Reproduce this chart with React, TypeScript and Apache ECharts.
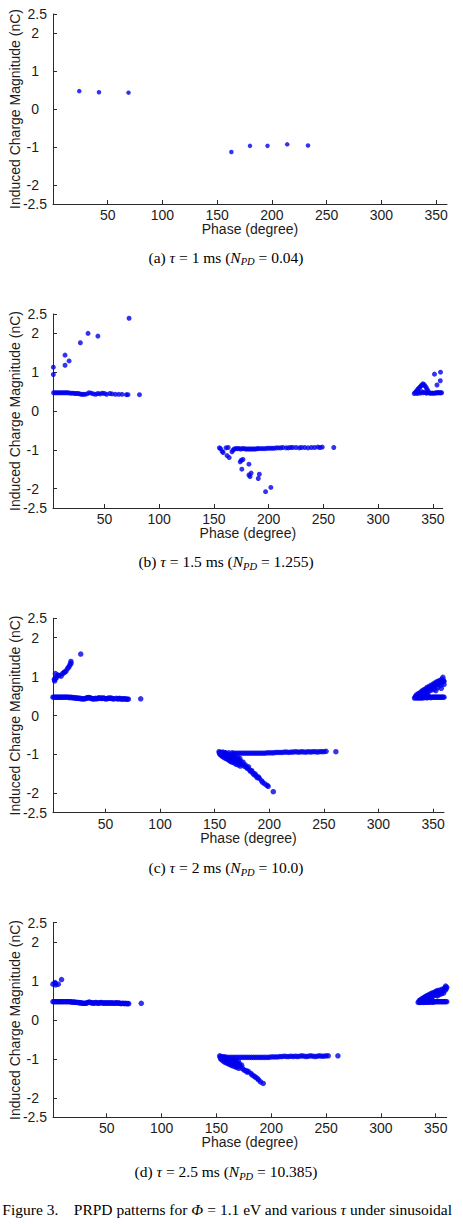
import React, { useEffect, useRef } from "react";
import * as echarts from "echarts";

// ---------- DATA (phase in degrees, induced charge in nC) ----------
const X_TICKS = [50, 100, 150, 200, 250, 300, 350];
const Y_TICKS = [-2.5, -2, -1, 0, 1, 2, 2.5];

// (a) tau = 1 ms
const A_POINTS = [
  [24, 0.47], [42, 0.44], [69, 0.43],
  [163, -1.13], [180, -0.97], [196, -0.97], [214, -0.93], [233, -0.96],
];

// (b) tau = 1.5 ms
const B_UPPER = [
  [3.3, 1.13], [3.3, 0.94], [14, 1.44], [14, 1.18], [17.7, 1.29], [28, 1.76], [35, 2.0], [44, 1.93], [72.5, 2.39],
];
const B_LINE = [
  [3.5, 0.47], [5, 0.47], [6.5, 0.47], [8, 0.47], [9.5, 0.47], [11, 0.47], [12.5, 0.47], [14, 0.47], [15.5, 0.47],
  [17, 0.47], [18.5, 0.46], [20, 0.46], [21.5, 0.46], [23, 0.45], [24.5, 0.45], [26, 0.45], [27.5, 0.44], [29, 0.43],
  [30.5, 0.43], [32, 0.43], [34, 0.44], [36, 0.47], [38, 0.46], [40, 0.44], [42, 0.43], [44, 0.45], [46, 0.44],
  [48, 0.46], [50, 0.45], [52, 0.43], [55, 0.45], [57, 0.44], [60, 0.43], [63, 0.43], [66, 0.43], [70, 0.42],
  [71.5, 0.42], [82, 0.42],
];
const B_NEG = [
  [155, -0.95], [156, -0.97], [157.5, -1.04], [158.4, -1.07], [161, -0.95], [162, -1.15], [163, -0.94], [164, -1.2],
  [166.5, -1.05], [167.5, -1.01], [168.5, -0.98], [170, -0.97], [171.5, -0.97], [173, -0.97], [174.5, -0.98],
  [176, -0.97], [177.5, -0.97], [179, -0.98], [180.5, -0.98], [182, -0.98], [183.5, -0.98], [185, -0.98],
  [186.5, -0.98], [188, -0.98], [189.5, -0.97], [191, -0.97], [193, -0.97], [195, -0.97], [197, -0.97], [199, -0.96],
  [201, -0.96], [203, -0.96], [205, -0.96], [207, -0.95], [209, -0.95], [211, -0.95], [213, -0.94], [216, -0.95],
  [218, -0.95], [220, -0.94], [222, -0.94], [225, -0.94], [228, -0.95], [230, -0.94], [233, -0.94], [236, -0.95],
  [239, -0.94], [242, -0.94], [245, -0.93], [247, -0.94], [249, -0.93], [259.5, -0.94],
  [174, -1.31], [175, -1.27], [176.5, -1.25], [175.5, -1.5], [182, -1.37], [182, -1.65], [183, -1.69], [184, -1.6],
  [190.5, -1.74], [191.5, -1.63], [197.2, -2.08], [202, -1.97],
];
const B_RIGHT = [
  [333, 0.45], [334, 0.48], [335, 0.51], [336, 0.55], [337, 0.58], [338, 0.61], [339, 0.64], [340, 0.67], [341, 0.7],
  [342, 0.68], [343, 0.64], [344, 0.6], [345, 0.55], [346, 0.5], [335.5, 0.45], [337, 0.47], [338.5, 0.46], [340, 0.5],
  [341, 0.47], [342.5, 0.48], [344, 0.46], [345, 0.47], [347, 0.46], [348, 0.46], [349, 0.46], [350, 0.46],
  [351, 0.46], [352, 0.46], [353, 0.47], [354, 0.47], [355, 0.47], [356, 0.47], [357, 0.47], [358, 0.47],
  [351.5, 0.95], [357, 1.0], [353.8, 0.67], [356.8, 0.78],
];

// (c) tau = 2 ms
const C_UPPER = [
  [3.3, 0.93], [3.5, 0.89], [4, 0.95], [4.2, 1.08], [5, 0.97], [6.3, 1.04], [7.5, 1.03], [9.3, 1.01], [10.8, 1.08],
  [12, 1.1], [12.9, 1.12], [14, 1.15], [15.4, 1.21], [16.5, 1.25], [17.5, 1.3], [18.4, 1.39], [18.4, 1.34], [27.4, 1.58],
];
const C_LINE = [
  [2, 0.47], [3, 0.47], [4, 0.47], [5, 0.47], [6, 0.47], [7, 0.47], [8, 0.47], [9, 0.47], [10, 0.47], [11, 0.47],
  [12, 0.47], [13, 0.47], [14, 0.47], [15, 0.47], [16, 0.47], [17, 0.46], [18, 0.47], [19, 0.46], [20, 0.46],
  [21, 0.46], [22, 0.45], [23, 0.45], [24, 0.45], [25, 0.44], [26, 0.44], [27, 0.44], [28, 0.43], [29, 0.43],
  [30, 0.43], [31, 0.43], [32, 0.44], [33, 0.45], [34, 0.46], [35, 0.46], [36, 0.45], [37, 0.44], [38, 0.43],
  [39, 0.43], [40, 0.43], [41, 0.44], [42, 0.43], [43, 0.44], [44, 0.45], [45, 0.45], [46, 0.44], [47, 0.44],
  [48, 0.45], [49, 0.44], [50, 0.43], [51, 0.43], [52, 0.44], [53, 0.44], [54, 0.45], [55, 0.44], [56, 0.44],
  [57, 0.43], [58, 0.43], [60, 0.44], [61, 0.43], [62, 0.43], [63, 0.44], [64, 0.43], [65, 0.42], [66, 0.43],
  [67, 0.43], [68, 0.43], [69, 0.42], [70, 0.42], [71, 0.42], [82.3, 0.43],
];
const C_NEG = [
  [154, -0.93], [154.5, -0.97], [155, -1.0], [155.5, -0.95], [156, -1.02], [156.5, -0.98], [157, -1.05], [157.5, -0.94],
  [158, -1.0], [158.5, -1.08], [159, -1.03], [159.5, -0.96], [160, -1.1], [160.5, -1.05], [161, -0.99], [161.5, -1.12],
  [162, -1.07], [162.5, -1.01], [163, -1.15], [163.5, -1.1], [164, -1.04], [164.5, -1.18], [165, -1.13], [165.5, -1.07],
  [166, -1.2], [166.5, -1.0], [167, -1.15], [167.5, -1.1], [168, -1.22], [168.5, -1.05], [169, -1.17], [169.5, -1.25],
  [170, -1.12], [170.5, -1.2], [171, -1.08], [171.5, -1.27], [172, -1.15], [172.5, -1.22], [173, -1.1], [173.5, -1.3],
  [174, -1.18], [175, -1.25], [176, -1.2], [177, -1.3], [178, -1.27],
  [179, -1.33], [180, -1.36], [181, -1.32], [182, -1.4], [183, -1.44], [184, -1.42], [185, -1.48], [186, -1.52],
  [187, -1.5], [188, -1.55], [189, -1.6], [190, -1.58], [191, -1.62], [193, -1.68], [194, -1.72], [196, -1.76],
  [198, -1.8], [199, -1.82], [203.7, -1.96],
  [157, -0.96], [160, -0.96], [163, -0.96], [166, -0.96], [168, -0.97], [170, -0.97], [172, -0.97], [174, -0.97],
  [176, -0.97], [178, -0.97], [180, -0.97], [182, -0.97], [184, -0.97], [186, -0.97], [188, -0.97], [190, -0.97],
  [192, -0.97], [194, -0.97], [196, -0.97], [198, -0.96], [200, -0.96], [202, -0.96], [204, -0.96], [206, -0.95],
  [208, -0.95], [210, -0.95], [212, -0.95], [214, -0.94], [216, -0.94], [218, -0.95], [220, -0.94], [222, -0.94],
  [224, -0.93], [226, -0.94], [228, -0.94], [230, -0.93], [232, -0.94], [234, -0.94], [236, -0.93], [238, -0.94],
  [240, -0.93], [242, -0.93], [244, -0.94], [246, -0.93], [248, -0.93], [250, -0.93], [252, -0.92], [261, -0.93],
];
const C_RIGHT = [
  [333, 0.45], [334, 0.46], [335, 0.46], [336, 0.45], [337, 0.46], [338, 0.46], [339, 0.45], [340, 0.46], [341, 0.46],
  [342, 0.46], [343, 0.47], [344, 0.46], [345, 0.46], [346, 0.47], [347, 0.47], [348, 0.46], [349, 0.47], [350, 0.47],
  [351, 0.47], [352, 0.47], [353, 0.47], [354, 0.47], [355, 0.47], [356, 0.47], [357, 0.47], [358, 0.47], [359, 0.47],
  [360, 0.47],
  [334, 0.5], [335, 0.53], [336, 0.5], [336.5, 0.56], [337, 0.52], [338, 0.58], [338.5, 0.52], [339, 0.6], [339.5, 0.55],
  [340, 0.63], [340.5, 0.5], [341, 0.58], [341.5, 0.66], [342, 0.54], [342.5, 0.62], [343, 0.68], [343.5, 0.57],
  [344, 0.65], [344.5, 0.72], [345, 0.6], [345.5, 0.52], [346, 0.7], [346.5, 0.75], [347, 0.64], [348, 0.72],
  [348.5, 0.78], [349, 0.66], [350, 0.8], [350.5, 0.74], [351, 0.68], [351.5, 0.83], [352, 0.77], [352.5, 0.64],
  [353, 0.86], [353.5, 0.8], [354, 0.72], [354.5, 0.88], [355, 0.82], [356, 0.9], [356.5, 0.84], [357, 0.78],
  [357.5, 0.7], [358, 0.93], [358.5, 0.86], [359, 0.98], [359.5, 0.9], [360, 0.88], [360, 0.8],
];

// (d) tau = 2.5 ms
const D_UPPER = [[1, 0.92], [2.8, 0.96], [3.5, 0.9], [5.8, 0.92], [8.8, 1.04]];
const D_LINE = [
  [1, 0.47], [2, 0.47], [3, 0.47], [4, 0.47], [5, 0.47], [6, 0.47], [7, 0.47], [8, 0.47], [9, 0.47], [10, 0.47],
  [11, 0.47], [12, 0.47], [13, 0.47], [14, 0.47], [15, 0.47], [16, 0.47], [17, 0.47], [18, 0.46], [19, 0.46],
  [20, 0.46], [21, 0.46], [22, 0.45], [23, 0.45], [24, 0.45], [25, 0.44], [26, 0.44], [27, 0.44], [28, 0.43],
  [29, 0.43], [30, 0.43], [31, 0.43], [32, 0.44], [33, 0.45], [34, 0.46], [35, 0.45], [36, 0.44], [37, 0.44],
  [38, 0.43], [39, 0.44], [40, 0.45], [41, 0.44], [42, 0.43], [43, 0.44], [44, 0.44], [45, 0.45], [46, 0.44],
  [47, 0.43], [48, 0.44], [49, 0.44], [50, 0.43], [51, 0.44], [52, 0.44], [53, 0.43], [54, 0.44], [55, 0.44],
  [56, 0.43], [57, 0.43], [58, 0.44], [59, 0.44], [60, 0.43], [61, 0.44], [62, 0.43], [63, 0.42], [64, 0.43],
  [65, 0.43], [66, 0.42], [67, 0.43], [68, 0.42], [69, 0.42], [70, 0.42], [81.5, 0.43],
];
const D_NEG = [
  [153, -0.92], [153.5, -0.96], [154, -1.0], [154.5, -0.94], [155, -1.02], [155.5, -0.98], [156, -1.05], [156.5, -0.95],
  [157, -1.01], [157.5, -1.08], [158, -1.03], [158.5, -0.97], [159, -1.1], [159.5, -1.05], [160, -1.0], [160.5, -1.12],
  [161, -1.07], [161.5, -1.01], [162, -1.14], [162.5, -1.09], [163, -1.04], [163.5, -1.16], [164, -1.11], [164.5, -1.06],
  [165, -1.18], [165.5, -1.02], [166, -1.13], [166.5, -1.08], [167, -1.2], [167.5, -1.04], [168, -1.15], [168.5, -1.22],
  [169, -1.1], [169.5, -1.18], [170, -1.06], [170.5, -1.24], [171, -1.13], [172, -1.2], [173, -1.16], [174, -1.25],
  [175.3, -1.29], [177, -1.3], [178, -1.34], [179, -1.32], [181.4, -1.37], [182.5, -1.41], [184.4, -1.44],
  [185.5, -1.47], [187.3, -1.5], [188.5, -1.54], [190.3, -1.59], [192.7, -1.63],
  [156, -0.95], [158, -0.95], [160, -0.96], [162, -0.96], [164, -0.96], [166, -0.96], [168, -0.96], [170, -0.96],
  [172, -0.96], [174, -0.96], [176, -0.96], [178, -0.96], [180, -0.96], [182, -0.96], [184, -0.96], [186, -0.96],
  [188, -0.96], [190, -0.96], [192, -0.96], [194, -0.96], [196, -0.96], [198, -0.96], [200, -0.95], [202, -0.95],
  [204, -0.95], [206, -0.95], [208, -0.94], [210, -0.94], [212, -0.93], [214, -0.94], [216, -0.94], [218, -0.93],
  [220, -0.94], [222, -0.93], [224, -0.94], [226, -0.93], [228, -0.92], [230, -0.93], [232, -0.94], [234, -0.93],
  [236, -0.92], [238, -0.93], [240, -0.94], [242, -0.93], [244, -0.92], [246, -0.93], [248, -0.93], [250, -0.92],
  [252, -0.92], [260.8, -0.92],
];
const D_RIGHT = [
  [334, 0.45], [335, 0.46], [336, 0.45], [337, 0.46], [338, 0.46], [339, 0.45], [340, 0.46], [341, 0.46], [342, 0.46],
  [343, 0.46], [344, 0.46], [345, 0.46], [346, 0.47], [347, 0.46], [348, 0.46], [349, 0.47], [350, 0.47], [351, 0.47],
  [352, 0.47], [353, 0.47], [354, 0.47], [355, 0.47], [356, 0.47], [357, 0.47], [358, 0.47], [359, 0.47], [360, 0.47],
  [335, 0.5], [336, 0.52], [337, 0.5], [337.5, 0.55], [338, 0.52], [339, 0.57], [339.5, 0.51], [340, 0.59],
  [340.5, 0.54], [341, 0.61], [341.5, 0.5], [342, 0.57], [342.5, 0.63], [343, 0.53], [343.5, 0.6], [344, 0.65],
  [344.5, 0.56], [345, 0.62], [345.5, 0.68], [346, 0.58], [346.5, 0.52], [347, 0.66], [347.5, 0.7], [348, 0.62],
  [349, 0.68], [349.5, 0.72], [350, 0.64], [350.5, 0.74], [351, 0.69], [351.5, 0.62], [352, 0.76], [352.5, 0.71],
  [353, 0.65], [354, 0.77], [354.5, 0.72], [355, 0.67], [356, 0.79], [356.5, 0.74], [357, 0.69], [358, 0.82],
  [358.5, 0.76], [359, 0.87], [359.5, 0.8], [360, 0.84],
];

const CAPTIONS = [
  { tag: "(a) ", tau: "1", npd: "0.04" },
  { tag: "(b) ", tau: "1.5", npd: "1.255" },
  { tag: "(c) ", tau: "2", npd: "10.0" },
  { tag: "(d) ", tau: "2.5", npd: "10.385" },
];
const Y_NAME = "Induced Charge Magnitude (nC)";
const X_NAME = "Phase (degree)";
const FIG_CAPTION_1 = "Figure 3.    PRPD patterns for ";
const FIG_CAPTION_2 = "voltage.";

// ---------- LAYOUT ----------
const PANELS = [
  { left: 50.7, top: 14, width: 396.3, height: 190, xMin: 0, xMax: 360, capY: 257, dot: 4.5, data: [A_POINTS] },
  { left: 49.3, top: 314, width: 393.4, height: 194, xMin: 3, xMax: 359, capY: 561.5, dot: 5, data: [B_UPPER, B_LINE, B_NEG, B_RIGHT] },
  { left: 46.7, top: 618.3, width: 397.3, height: 194.4, xMin: 2, xMax: 360, capY: 867.5, dot: 5.5, data: [C_UPPER, C_LINE, C_NEG, C_RIGHT] },
  { left: 46, top: 922.7, width: 400.7, height: 194.6, xMin: 1, xMax: 360, capY: 1171.5, dot: 5.5, data: [D_UPPER, D_LINE, D_NEG, D_RIGHT] },
];

const SANS = "'Liberation Sans', Arial, Helvetica, sans-serif";
const SERIF = "'Liberation Serif', 'Times New Roman', serif";
const AXIS_COLOR = "#2a2a2a";
const TEXT_COLOR = "#1c1c1c";
const DOT_COLOR = "#0000ee";

export default function App() {
  const ref = useRef<HTMLDivElement>(null);

  useEffect(() => {
    if (!ref.current) return;
    const chart = echarts.init(ref.current, undefined, { renderer: "svg" });

    const grid = PANELS.map((p) => ({ left: p.left, top: p.top, width: p.width, height: p.height, containLabel: false }));
    const xAxis = PANELS.map((p, i) => ({
      type: "value",
      gridIndex: i,
      min: p.xMin,
      max: p.xMax,
      name: X_NAME,
      nameLocation: "middle",
      nameGap: 18,
      nameMoveOverlap: false,
      nameTextStyle: { fontFamily: SANS, fontSize: 14, color: TEXT_COLOR },
      axisLine: { show: true, onZero: false, lineStyle: { color: AXIS_COLOR, width: 1 } },
      axisTick: { show: true, inside: true, length: 4, customValues: X_TICKS, lineStyle: { color: AXIS_COLOR } },
      axisLabel: { show: true, customValues: X_TICKS, fontFamily: SANS, fontSize: 14, color: TEXT_COLOR, margin: 4 },
      splitLine: { show: false },
    }));
    const yAxis = PANELS.map((_p, i) => ({
      type: "value",
      gridIndex: i,
      min: -2.5,
      max: 2.5,
      name: Y_NAME,
      nameLocation: "middle",
      nameGap: 31,
      nameRotate: 90,
      nameMoveOverlap: false,
      nameTextStyle: { fontFamily: SANS, fontSize: 14, color: TEXT_COLOR },
      axisLine: { show: true, onZero: false, lineStyle: { color: AXIS_COLOR, width: 1 } },
      axisTick: { show: true, inside: true, length: 4, customValues: Y_TICKS, lineStyle: { color: AXIS_COLOR } },
      axisLabel: {
        show: true,
        customValues: Y_TICKS,
        margin: 6,
        formatter: (v: number) => (Math.abs(v) === 2.5 ? `{e|${v}}` : `{i|${v}}`),
        rich: {
          e: { fontFamily: SANS, fontSize: 14, color: TEXT_COLOR },
          i: { fontFamily: SANS, fontSize: 14, color: TEXT_COLOR, padding: [0, 8, 0, 0] },
        },
      },
      splitLine: { show: false },
    }));

    const series = PANELS.map((p, i) => ({
      type: "scatter",
      xAxisIndex: i,
      yAxisIndex: i,
      symbol: "circle",
      symbolSize: p.dot,
      itemStyle: { color: DOT_COLOR },
      data: ([] as number[][]).concat(...p.data),
      silent: true,
    }));

    const capRich = {
      n: { fontFamily: SERIF, fontSize: 15.5, color: TEXT_COLOR, lineHeight: 20, verticalAlign: "middle" },
      i: { fontFamily: SERIF, fontSize: 15.5, fontStyle: "italic", color: TEXT_COLOR, lineHeight: 20, verticalAlign: "middle" },
      s: { fontFamily: SERIF, fontSize: 10.5, fontStyle: "italic", color: TEXT_COLOR, lineHeight: 12, verticalAlign: "bottom" },
    };

    const graphic: any[] = PANELS.map((p, i) => ({
      type: "text",
      x: 226,
      y: p.capY,
      style: {
        text: `{n|${CAPTIONS[i].tag}}{i|τ}{n| = ${CAPTIONS[i].tau} ms (}{i|N}{s|PD}{n| = ${CAPTIONS[i].npd})}`,
        rich: capRich,
        align: "center",
        verticalAlign: "middle",
      },
    }));
    graphic.push({
      type: "text",
      x: 452,
      y: 1209.5,
      style: {
        text: `{n|${FIG_CAPTION_1}}{i|Φ}{n| = 1.1 eV and various }{i|τ}{n| under sinusoidal}`,
        rich: capRich,
        align: "right",
        verticalAlign: "middle",
      },
    });
    graphic.push({
      type: "text",
      x: 216,
      y: 1229,
      style: {
        text: FIG_CAPTION_2,
        fontFamily: SERIF,
        fontSize: 15.5,
        fill: TEXT_COLOR,
        align: "center",
        verticalAlign: "middle",
      },
    });

    chart.setOption({
      animation: false,
      backgroundColor: "#ffffff",
      grid,
      xAxis,
      yAxis,
      series,
      graphic,
    });

    return () => chart.dispose();
  }, []);

  return (
    <div
      ref={ref}
      style={{ position: "absolute", left: 0, top: 0, width: 463, height: 1224, background: "#fff" }}
    />
  );
}
